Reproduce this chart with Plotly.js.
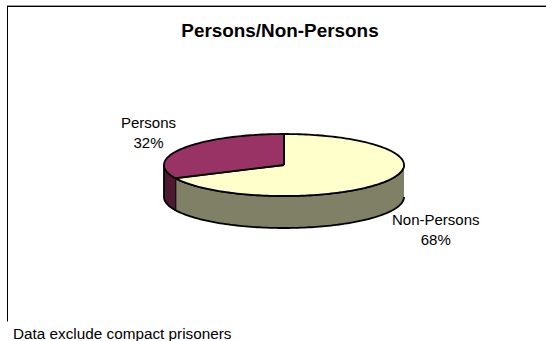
<!DOCTYPE html>
<html>
<head>
<meta charset="utf-8">
<script src="https://cdn.plot.ly/plotly-3.0.1.min.js"></script>
<style>html,body{margin:0;padding:0;background:#fff}#c{width:546px;height:341px}</style>
</head>
<body>
<div id="c"></div>
<script>
const categories = ["Persons", "Non-Persons"];
const shares = [32, 68];
const topColors = ["#993366", "#FFFFCC"];
const sideColors = ["#4D1A33", "#808066"];
const chartTitle = "Persons/Non-Persons";
const footnote = "Data exclude compact prisoners";

// Tilted-disc projection, in a pixel-scaled hidden coordinate system
const cx = 284, cy = 165, rx = 120, ry = 31, depth = 32;
function pt(deg, dy) {
  const a = deg * Math.PI / 180;
  return [cx + rx * Math.sin(a), cy - ry * Math.cos(a) + (dy || 0)];
}
function arc(a0, a1, dy) {
  const out = [], n = Math.max(2, Math.ceil(Math.abs(a1 - a0) / 1.5));
  for (let i = 0; i <= n; i++) out.push(pt(a0 + (a1 - a0) * i / n, dy));
  return out;
}
function poly(points, fill) {
  return {
    type: "scatter", mode: "lines", hoverinfo: "skip", showlegend: false,
    x: points.map(p => p[0]), y: points.map(p => p[1]),
    fill: "toself", fillcolor: fill,
    line: {color: "#000", width: 1.8, simplify: false}
  };
}
const total = shares.reduce((a, b) => a + b, 0);
const personsSweep = 360 * shares[0] / total;
const personsStart = 360 - personsSweep;

const traces = [];
// Side walls: visible only on the front half (90 to 270 degrees)
traces.push(poly(arc(90, personsStart).concat(arc(personsStart, 90, depth)), sideColors[1]));
traces.push(poly(arc(personsStart, 270).concat(arc(270, personsStart, depth)), sideColors[0]));
// Top faces
traces.push(poly([[cx, cy]].concat(arc(0, personsStart)).concat([[cx, cy]]), topColors[1]));
traces.push(poly([[cx, cy]].concat(arc(personsStart, 360)).concat([[cx, cy]]), topColors[0]));

const font = {family: "Liberation Sans, Arial, sans-serif", color: "#000", size: 15};
const layout = {
  width: 546, height: 341,
  margin: {l: 0, r: 0, t: 0, b: 0},
  paper_bgcolor: "#fff", plot_bgcolor: "#fff",
  showlegend: false,
  xaxis: {range: [0, 546], visible: false, fixedrange: true},
  yaxis: {range: [341, 0], visible: false, fixedrange: true},
  title: {text: "<b>" + chartTitle + "</b>", font: {family: font.family, size: 18.9, color: "#000"},
          x: 280 / 546, xanchor: "center", y: 1 - 30 / 341, yanchor: "middle"},
  shapes: [
    {type: "line", xref: "x", yref: "y", x0: 7, x1: 546, y0: 5.5, y1: 5.5, line: {color: "#999", width: 1}},
    {type: "line", xref: "x", yref: "y", x0: 7, x1: 546, y0: 6.5, y1: 6.5, line: {color: "#000", width: 1}},
    {type: "line", xref: "x", yref: "y", x0: 7.5, x1: 7.5, y0: 6, y1: 321.5, line: {color: "#000", width: 1}}
  ],
  annotations: [
    {x: 148, y: 132.5, xref: "x", yref: "y", showarrow: false, align: "center",
     text: categories[0] + "<br>" + shares[0] + "%", font: font},
    {x: 435.5, y: 229, xref: "x", yref: "y", showarrow: false, align: "center",
     text: categories[1] + "<br>" + shares[1] + "%", font: font},
    {x: 10.5, y: 333, xref: "x", yref: "y", xanchor: "left", showarrow: false,
     text: footnote, font: {family: font.family, size: 15.3, color: "#000"}}
  ]
};
Plotly.newPlot("c", traces, layout, {displayModeBar: false, staticPlot: true});
</script>
</body>
</html>
